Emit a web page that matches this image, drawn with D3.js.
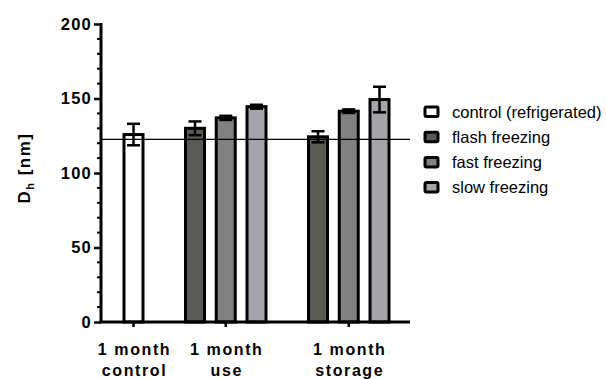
<!DOCTYPE html>
<html lang="en">
<head>
<meta charset="UTF-8" />
<title>Dh chart</title>
<style>
    body { margin: 0; background: #fff; }
    text { font-family: "Liberation Sans", Arial, sans-serif; }
</style>
</head>
<body>
<div id="container"></div>
<script src="https://cdnjs.cloudflare.com/ajax/libs/d3/7.1.1/d3.min.js"></script>
<script>
    // data
    let groups = ["1 month\ncontrol", "1 month\nuse", "1 month\nstorage"];
    let series = ["control (refrigerated)", "flash freezing", "fast freezing", "slow freezing"];
    let colors = ["#ffffff", "#595a53", "#818181", "#a5a4aa"];
    // which series appear in each group
    let groupSeries = [[0], [1, 2, 3], [1, 2, 3]];
    let means = [[125.8], [130, 137, 144.5], [124.3, 141.5, 149.3]];
    let errs = [[7.2], [4.6, 1.4, 1.3], [3.7, 1.2, 8.6]];
    let refLine = 122.6;
    let yTicks = [0, 50, 100, 150, 200];
    let yMinor = d3.range(0, 201, 10);

    let W = 606, H = 379;
    let svg = d3.select("#container").append("svg").attr("width", W).attr("height", H);

    let y = d3.scaleLinear().domain([0, 200]).range([322, 24]);

    // slot layout: one bar per slot, an empty slot between groups
    let bars = [], slot = 0, groupCenter = [];
    groupSeries.forEach((list, gi) => {
        let first = slot;
        list.forEach((s, k) => {
            bars.push({ g: gi, s: s, slot: slot, v: means[gi][k], e: errs[gi][k] });
            slot++;
        });
        groupCenter.push((first + slot - 1) / 2);
        slot++;
    });
    let x = d3.scaleLinear().domain([0, slot - 2]).range([133.5, 379.5]);
    let barW = 19;

    // bars
    svg.append("g").selectAll("rect").data(bars).enter().append("rect")
        .attr("x", d => x(d.slot) - barW / 2)
        .attr("y", d => y(d.v))
        .attr("width", barW)
        .attr("height", d => y(0) - y(d.v))
        .attr("fill", d => colors[d.s])
        .attr("stroke", "#000")
        .attr("stroke-width", 3);

    // error bars
    let eb = svg.append("g").attr("stroke", "#000").attr("stroke-width", 2.5);
    bars.forEach(d => {
        let cx = x(d.slot);
        eb.append("line").attr("x1", cx).attr("x2", cx).attr("y1", y(d.v + d.e)).attr("y2", y(d.v - d.e));
        [d.v + d.e, d.v - d.e].forEach(v => {
            eb.append("line").attr("x1", cx - 6.5).attr("x2", cx + 6.5).attr("y1", y(v)).attr("y2", y(v));
        });
    });

    // reference line
    svg.append("line")
        .attr("x1", 101).attr("x2", 410)
        .attr("y1", y(refLine)).attr("y2", y(refLine))
        .attr("stroke", "#000").attr("stroke-width", 1.2);

    // y axis
    let yAxis = svg.append("g").attr("transform", "translate(101,0)")
        .call(d3.axisLeft(y).tickValues(yTicks).tickSize(7).tickPadding(2));
    yAxis.select(".domain").attr("stroke-width", 3).attr("d", `M0,${y(200) - 1}V${y(0)}`);
    yAxis.selectAll(".tick line").attr("stroke-width", 2.5);
    yAxis.selectAll(".tick text")
        .attr("font-size", 16.5).attr("font-weight", "bold").attr("letter-spacing", "1.2px")
        .attr("font-family", "Liberation Sans, Arial, sans-serif").attr("fill", "#000");
    yAxis.selectAll(".minor").data(yMinor.filter(v => v % 50 !== 0)).enter().append("line")
        .attr("class", "minor")
        .attr("x1", -4).attr("x2", 0)
        .attr("y1", d => y(d)).attr("y2", d => y(d))
        .attr("stroke", "#000").attr("stroke-width", 2);

    // x axis
    let xAxis = svg.append("g").attr("transform", `translate(0,${y(0)})`);
    xAxis.append("line").attr("x1", 99.5).attr("x2", 410).attr("stroke", "#000").attr("stroke-width", 3);
    groupCenter.forEach((c, i) => {
        let cx = x(c);
        xAxis.append("line").attr("x1", cx).attr("x2", cx).attr("y1", 0).attr("y2", 5)
            .attr("stroke", "#000").attr("stroke-width", 2.5);
        let t = xAxis.append("text").attr("text-anchor", "middle")
            .attr("font-size", 16).attr("font-weight", "bold").attr("letter-spacing", "1.6px");
        groups[i].split("\n").forEach((line, li) => {
            t.append("tspan").attr("x", cx + 1).attr("y", 33 + li * 21).text(line);
        });
    });

    // y title
    let yt = svg.append("text")
        .attr("transform", "translate(30,168) rotate(-90)")
        .attr("text-anchor", "middle")
        .attr("font-size", 17).attr("font-weight", "bold").attr("letter-spacing", "1.5px");
    yt.append("tspan").text("D");
    yt.append("tspan").attr("font-size", 11).attr("dy", 4).text("h");
    yt.append("tspan").attr("dy", -4).text(" [nm]");

    // legend
    let lg = svg.append("g").selectAll("g").data(series).enter().append("g")
        .attr("transform", (d, i) => `translate(425,${112 + i * 25.2})`);
    lg.append("rect")
        .attr("x", 0).attr("y", -5).attr("width", 13).attr("height", 9.5)
        .attr("fill", (d, i) => colors[i])
        .attr("stroke", "#000").attr("stroke-width", 3).attr("rx", 1.5);
    lg.append("text")
        .attr("x", 27).attr("y", 5.5)
        .attr("font-size", 16.5)
        .text(d => d);
</script>
</body>
</html>
